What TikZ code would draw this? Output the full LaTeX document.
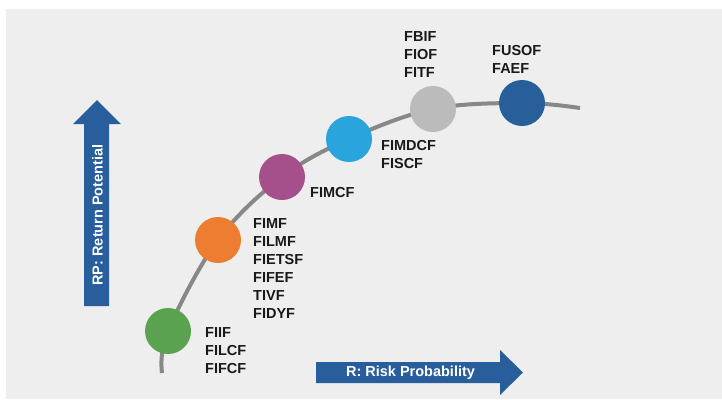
\documentclass[tikz,border=0pt]{standalone}
\usepackage{fontspec}
\setmainfont{Liberation Sans}
\usepackage[]{xcolor}

\definecolor{bggray}{RGB}{238,238,238}
\definecolor{curvegray}{RGB}{136,136,136}
\definecolor{arrowblue}{RGB}{40,94,156}
\definecolor{fundgreen}{RGB}{90,162,80}
\definecolor{fundorange}{RGB}{237,125,49}
\definecolor{fundpurple}{RGB}{165,80,138}
\definecolor{fundcyan}{RGB}{41,164,221}
\definecolor{fundgray}{RGB}{187,187,187}
\definecolor{fundnavy}{RGB}{40,95,155}

\begin{document}
\begin{tikzpicture}[
            x=1pt, y=-1pt,
            fund/.style={circle, inner sep=0pt, minimum size=46pt},
            funds/.style={anchor=west, align=left, inner sep=0pt, text=black!90,
                font=\fontsize{14.5}{18}\selectfont\bfseries},
            axis/.style={fill=arrowblue},
            axislabel/.style={text=white, inner sep=0pt, font=\fontsize{14.5}{18}\selectfont\bfseries},
            riskcurve/.style={draw=curvegray, line width=4pt}
        ]
            \useasboundingbox (0,0) rectangle (722,399);
            \fill[bggray] (6,9) rectangle (722,399);

            % points on the risk-return curve
            \coordinate (start) at (162,373);
            \coordinate (pG) at (168,331);
            \coordinate (pO) at (218,240);
            \coordinate (pP) at (282,177);
            \coordinate (pC) at (349,139);
            \coordinate (pY) at (433,109);
            \coordinate (pN) at (522,103);
            \coordinate (end) at (580,108);
            \draw[riskcurve] plot[smooth, tension=0.6] coordinates {(start) (pG) (pO) (pP) (pC) (pY) (pN) (end)};

            \node[fund, fill=fundgreen] (G) at (pG) {};
            \node[fund, fill=fundorange] (O) at (pO) {};
            \node[fund, fill=fundpurple] (P) at (pP) {};
            \node[fund, fill=fundcyan] (C) at (pC) {};
            \node[fund, fill=fundgray] (Y) at (pY) {};
            \node[fund, fill=fundnavy] (N) at (pN) {};

            \node[funds] (lG) at (205,350.5) {FIIF\\FILCF\\FIFCF};
            \node[funds] (lO) at (253,269) {FIMF\\FILMF\\FIETSF\\FIFEF\\TIVF\\FIDYF};
            \node[funds] (lP) at (310,193) {FIMCF};
            \node[funds] (lC) at (381,155) {FIMDCF\\FISCF};
            \node[funds] (lY) at (404,55) {FBIF\\FIOF\\FITF};
            \node[funds] (lN) at (492,59.5) {FUSOF\\FAEF};

            % axes
            \fill[axis] (84,306) -- (84,124) -- (73,124) -- (97,100) -- (121,124) -- (109,124) -- (109,306) -- cycle;
            \node[axislabel, rotate=90] (rp) at (97.5,215) {RP: Return Potential};
            \fill[axis] (316,362) -- (500,362) -- (500,350) -- (523,372.5) -- (500,395) -- (500,383) -- (316,383) -- cycle;
            \node[axislabel] (r) at (410.5,372.5) {R: Risk Probability};
        \end{tikzpicture}
\end{document}
